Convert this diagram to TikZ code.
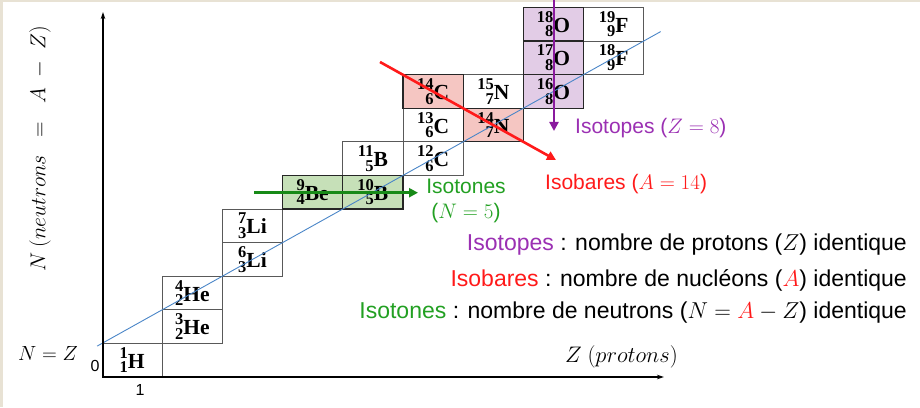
\RequirePackage{fix-cm}
\documentclass[tikz,border=0pt]{standalone}
\usepackage{fontspec}
\setmainfont{Liberation Serif}
\setsansfont{Liberation Sans}
\usetikzlibrary{arrows.meta}

\definecolor{cellpink}{HTML}{F5C6C2}
\definecolor{cellpurple}{HTML}{E2CCE6}
\definecolor{cellgreen}{HTML}{C6E0B8}
\definecolor{nzblue}{HTML}{4A86C8}
\definecolor{isored}{HTML}{FF1A1A}
\definecolor{isopurple}{HTML}{8A1A9E}
\definecolor{isopurpletext}{HTML}{9B30B3}
\definecolor{isogreen}{HTML}{178A17}
\definecolor{isogreentext}{HTML}{22A022}
\definecolor{edgebeige}{HTML}{E8E2D4}

% nuclide symbol: mass number over atomic number, both right-aligned
\newcommand\nuc[3]{%
  \setbox0=\hbox{\fontsize{16.5}{16.5}\selectfont\bfseries #1}%
  \setbox2=\hbox{\fontsize{16.5}{16.5}\selectfont\bfseries #2}%
  \dimen0=\ifdim\wd0>\wd2 \wd0\else\wd2\fi
  \raisebox{10pt}{\hbox to\dimen0{\hfill\box0}}\kern-\dimen0
  \raisebox{-4.5pt}{\hbox to\dimen0{\hfill\box2}}%
  {\fontsize{21.5}{21.5}\selectfont\bfseries #3}}

\tikzset{
  cell/.style={draw=black!65, line width=0.8pt, minimum width=60.2pt,
    minimum height=33.6pt, inner sep=0pt},
  hicell/.style={cell, draw=black!85, line width=1.3pt},
  axis/.style={line width=1.2pt, -{Stealth[length=7pt,width=4.5pt]}},
  lbl/.style={font=\sffamily\fontsize{21}{24}\selectfont, inner sep=0pt},
  deflbl/.style={font=\sffamily\fontsize{23}{26}\selectfont, inner sep=0pt, anchor=east},
  mlbl/.style={font=\fontsize{20.5}{24}\selectfont, inner sep=0pt},
  bigarrow/.style={line width=2.6pt, -{Triangle[length=9pt,width=9pt]}}
}

\begin{document}
\begin{tikzpicture}[x=1pt,y=1pt]
  % page and thin beige edge
  \fill[white] (0,0) rectangle (920,407);
  \fill[edgebeige] (0,0) rectangle (3,407);
  \fill[edgebeige] (0,405) rectangle (920,407);
  \useasboundingbox (0,0) rectangle (920,407);

  % chart of nuclides: one unit = one cell
  \begin{scope}[shift={(102,30)}, x=60.2pt, y=33.6pt]
    \node[cell] (H1)  at (0.5,0.5)  {\nuc{1}{1}{H}};
    \node[cell] (He3) at (1.5,1.5)  {\nuc{3}{2}{He}};
    \node[cell] (He4) at (1.5,2.5)  {\nuc{4}{2}{He}};
    \node[cell] (Li6) at (2.5,3.5)  {\nuc{6}{3}{Li}};
    \node[cell] (Li7) at (2.5,4.5)  {\nuc{7}{3}{Li}};
    \node[cell] (B11) at (4.5,6.5)  {\nuc{11}{5}{B}};
    \node[cell] (C12) at (5.5,6.5)  {\nuc{12}{6}{C}};
    \node[cell] (C13) at (5.5,7.5)  {\nuc{13}{6}{C}};
    \node[cell] (N15) at (6.5,8.5)  {\nuc{15}{7}{N}};
    \node[cell] (F18) at (8.5,9.5)  {\nuc{18}{9}{F}};
    \node[cell] (F19) at (8.5,10.5) {\nuc{19}{9}{F}};
    % highlighted families
    \node[hicell, fill=cellgreen]  (Be9) at (3.5,5.5)  {\nuc{9}{4}{Be}};
    \node[hicell, fill=cellgreen]  (B10) at (4.5,5.5)  {\nuc{10}{5}{B}};
    \node[hicell, fill=cellpink]   (C14) at (5.5,8.5)  {\nuc{14}{6}{C}};
    \node[hicell, fill=cellpink]   (N14) at (6.5,7.5)  {\nuc{14}{7}{N}};
    \node[hicell, fill=cellpurple] (O16) at (7.5,8.5)  {\nuc{16}{8}{O}};
    \node[hicell, fill=cellpurple] (O17) at (7.5,9.5)  {\nuc{17}{8}{O}};
    \node[hicell, fill=cellpurple] (O18) at (7.5,10.5) {\nuc{18}{8}{O}};

    % N = Z line
    \coordinate (nzA) at (-0.08,0.92);
    \coordinate (nzB) at (9.28,10.28);
    \draw[nzblue, line width=0.9pt] (nzA) -- (nzB);
  \end{scope}

  % axes
  \coordinate (origin) at (102,30);
  \coordinate (xtip) at (664,30);
  \coordinate (ybase) at (103,29.4);
  \coordinate (ytip) at (103,395);
  \draw[axis] (origin) -- (xtip);
  \draw[axis] (ybase) -- (ytip);

  \node[lbl, font=\sffamily\fontsize{16}{18}\selectfont] (zero) at (95,41) {0};
  \node[lbl, font=\sffamily\fontsize{16}{18}\selectfont] (one) at (140,17) {1};
  \node[mlbl, anchor=west, font=\fontsize{22.5}{26}\selectfont] (zlab) at (565,50) {$Z\ (protons)$};
  \node[mlbl, rotate=90, font=\fontsize{21.5}{26}\selectfont] (nlab) at (40,258) {$N\ (neutrons\;\;=\;\;A\;-\;Z)$};
  \node[mlbl, anchor=west] (nzlab) at (18,54) {$N = Z$};

  % isotopes, isobares, isotones arrows
  \coordinate (pA) at (554,407);
  \coordinate (pB) at (554,276);
  \draw[bigarrow, isopurple] (pA) -- (pB);
  \coordinate (rA) at (380,345);
  \coordinate (rB) at (556,247);
  \draw[bigarrow, isored] (rA) -- (rB);
  \coordinate (gA) at (254,214.3);
  \coordinate (gB) at (418,214.3);
  \draw[bigarrow, isogreen] (gA) -- (gB);

  \node[lbl, anchor=west, text=isopurpletext] (isotopes) at (575,279) {Isotopes ($Z = 8$)};
  \node[lbl, anchor=west, text=isored] (isobares) at (545,223) {Isobares ($A = 14$)};
  \node[lbl, text=isogreentext] (isotones) at (466,221) {Isotones};
  \node[lbl, text=isogreentext] (isotonesN) at (466,194) {($N = 5$)};

  % definitions
  \node[deflbl] (defZ) at (907,162)
    {\textcolor{isopurpletext}{Isotopes} : nombre de protons ($Z$) identique};
  \node[deflbl] (defA) at (907,127)
    {\textcolor{isored}{Isobares} : nombre de nucléons (${\color{isored}A}$) identique};
  \node[deflbl] (defN) at (907,94)
    {\textcolor{isogreentext}{Isotones} : nombre de neutrons ($N = {\color{isored}A} - Z$) identique};
\end{tikzpicture}
\end{document}
